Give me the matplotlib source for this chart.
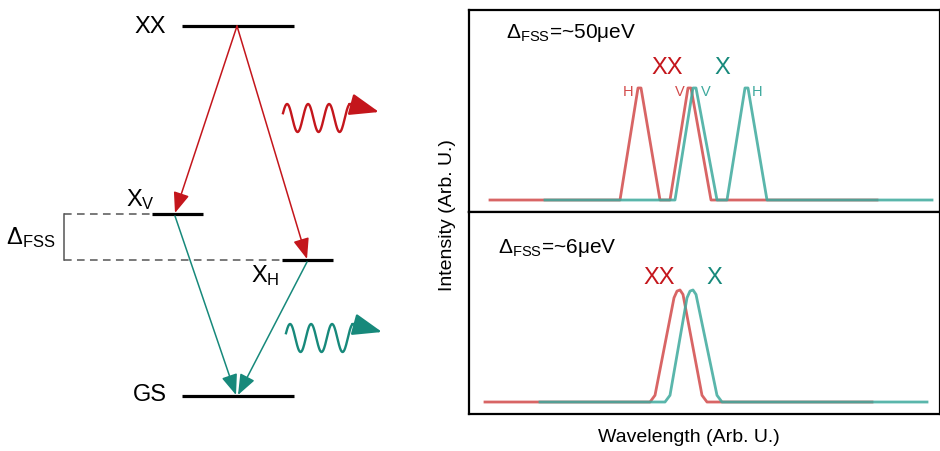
import numpy as np
import matplotlib.pyplot as plt

plt.rcParams['font.family'] = ['Liberation Sans', 'DejaVu Sans']
plt.rcParams['mathtext.fontset'] = 'custom'
plt.rcParams['mathtext.rm'] = 'Liberation Sans'
plt.rcParams['mathtext.it'] = 'Liberation Sans'

RED = '#c4161c'
TEAL = '#17897b'
SPEC_RED = '#d24a4a'
SPEC_TEAL = '#3da99d'

# energy levels (diagram coords, y down)
level_names = ['XX', r'$\mathrm{X_V}$', r'$\mathrm{X_H}$', 'GS']
level_y = [26, 214, 260, 396]
level_x0 = [182, 152, 282, 182]
level_x1 = [294, 203, 333, 294]

# spectra, top panel (delta FSS ~50 ueV)
top_red_x = [21, 151, 169, 172, 191, 201, 219, 222, 242, 408]
top_red_y = [0, 0, 1, 1, 0, 0, 1, 1, 0, 0]
top_teal_x = [76, 206, 224, 227, 248, 258, 276, 279, 298, 463]
top_teal_y = [0, 0, 1, 1, 0, 0, 1, 1, 0, 0]

# spectra, bottom panel (delta FSS ~6 ueV)
bot_red_x = [16, 181, 186, 205, 208, 211, 214, 233, 238, 403]
bot_red_y = [0, 0, 0.06, 0.93, 0.99, 1, 0.96, 0.06, 0, 0]
bot_teal_x = [71, 196, 201, 218, 221, 224, 227, 248, 253, 458]
bot_teal_y = [0, 0, 0.06, 0.93, 0.99, 1, 0.96, 0.06, 0, 0]

fig = plt.figure(figsize=(9.4, 4.51), dpi=100)

# ---- left: level diagram ----
ax = fig.add_axes([0, 0, 1, 1])
ax.set_xlim(0, 940)
ax.set_ylim(451, 0)
ax.axis('off')

for x0, x1, y in zip(level_x0, level_x1, level_y):
    ax.plot([x0, x1], [y, y], color='black', lw=2.3, solid_capstyle='butt')

ax.text(150, level_y[0] + 1, level_names[0], fontsize=17, ha='center', va='center')
ax.text(150, level_y[3] - 1, level_names[3], fontsize=17, ha='center', va='center')
ax.text(140, 200, level_names[1], fontsize=17, ha='center', va='center')
ax.text(265, 276, level_names[2], fontsize=17, ha='center', va='center')
ax.text(31, 238, r'$\Delta_\mathrm{FSS}$', fontsize=17, ha='center', va='center')

# fine structure splitting marker
ax.plot([64, 152], [214, 214], color='#555555', lw=1.1, dashes=(5, 3.5))
ax.plot([64, 282], [260, 260], color='#555555', lw=1.1, dashes=(5, 3.5))
ax.plot([64, 64], [214, 260], color='#555555', lw=1.1)

def arrow(x0, y0, x1, y1, c):
    ax.annotate('', xy=(x1, y1), xytext=(x0, y0),
                arrowprops=dict(arrowstyle='-|>,head_length=0.9,head_width=0.35',
                                mutation_scale=14, color=c, lw=1.1,
                                shrinkA=0, shrinkB=0))

arrow(237, 26, 175, 213, RED)
arrow(237, 26, 307, 259, RED)
arrow(175, 216, 236, 395, TEAL)
arrow(307, 262, 238, 395, TEAL)

# photons
def photon(x0, yc, c):
    t = np.linspace(0, 3.2, 200)
    xs = x0 + t * 21
    ys = yc - 14 * np.sin(2 * np.pi * t + 0.35)
    ax.plot(xs, ys, color=c, lw=1.7)
    ax.annotate('', xy=(x0 + 96, yc - 6), xytext=(xs[-1] - 1, ys[-1]),
                arrowprops=dict(arrowstyle='-|>,head_length=1.2,head_width=0.45',
                                mutation_scale=15, color=c, lw=1.7,
                                shrinkA=0, shrinkB=0))

photon(283, 118, RED)
photon(286, 338, TEAL)

# ---- right: spectra ----
W, H = 940, 451
def px_axes(x0, y0, x1, y1):
    return fig.add_axes([x0 / W, 1 - y1 / H, (x1 - x0) / W, (y1 - y0) / H])

ax1 = px_axes(469, 10, 940, 212)
ax2 = px_axes(469, 212, 940, 414)
for a in (ax1, ax2):
    a.set_xlim(0, 471)
    a.set_ylim(-0.107, 1.696)
    a.set_xticks([])
    a.set_yticks([])
    for s in a.spines.values():
        s.set_linewidth(1.6)

ax1.plot(top_red_x, top_red_y, color=SPEC_RED, lw=2, alpha=0.85)
ax1.plot(top_teal_x, top_teal_y, color=SPEC_TEAL, lw=2, alpha=0.85)
ax2.plot(bot_red_x, bot_red_y, color=SPEC_RED, lw=2, alpha=0.85)
ax2.plot(bot_teal_x, bot_teal_y, color=SPEC_TEAL, lw=2, alpha=0.85)

ax1.text(37, 1.49, r'$\Delta_\mathrm{FSS}$=~50μeV', fontsize=15, va='center')
ax1.text(198, 1.18, 'XX', color=RED, fontsize=17, ha='center', va='center')
ax1.text(253, 1.18, 'X', color=TEAL, fontsize=17, ha='center', va='center')
ax1.text(159, 0.96, 'H', color=SPEC_RED, fontsize=10.5, ha='center', va='center')
ax1.text(211, 0.96, 'V', color=SPEC_RED, fontsize=10.5, ha='center', va='center')
ax1.text(237, 0.96, 'V', color=SPEC_TEAL, fontsize=10.5, ha='center', va='center')
ax1.text(288, 0.96, 'H', color=SPEC_TEAL, fontsize=10.5, ha='center', va='center')

ax2.text(29, 1.375, r'$\Delta_\mathrm{FSS}$=~6μeV', fontsize=15, va='center')
ax2.text(190, 1.107, 'XX', color=RED, fontsize=17, ha='center', va='center')
ax2.text(245, 1.107, 'X', color=TEAL, fontsize=17, ha='center', va='center')

fig.text(447 / W, 1 - 215 / H, 'Intensity (Arb. U.)', fontsize=14,
         rotation=90, ha='center', va='center')
fig.text(689 / W, 1 - 437 / H, 'Wavelength (Arb. U.)', fontsize=14,
         ha='center', va='center')

fig.savefig('out.png', dpi=100)
